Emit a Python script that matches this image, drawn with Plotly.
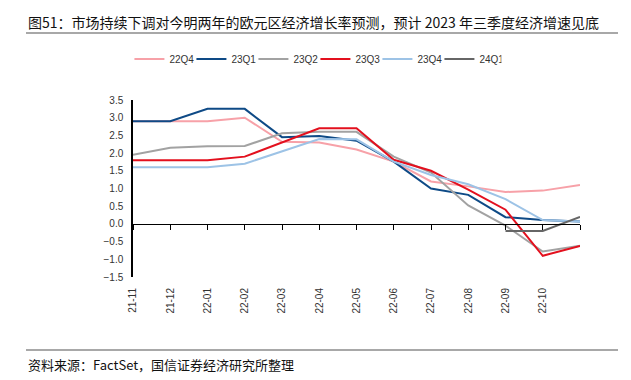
import plotly.graph_objects as go

categories = ["21-11", "21-12", "22-01", "22-02", "22-03", "22-04", "22-05",
              "22-06", "22-07", "22-08", "22-09", "22-10", "22-11"]
labeled_ticks = categories[:12]

s_22q4 = [2.9, 2.9, 2.9, 3.0, 2.32, 2.3, 2.1, 1.76, 1.2, 1.06, 0.9, 0.94, 1.1]
s_23q1 = [2.9, 2.9, 3.25, 3.25, 2.45, 2.48, 2.35, 1.76, 1.0, 0.82, 0.19, 0.11, 0.07]
s_23q2 = [1.95, 2.15, 2.19, 2.2, 2.56, 2.6, 2.6, 1.9, 1.45, 0.52, -0.05, -0.78, -0.62]
s_23q3 = [1.8, 1.8, 1.8, 1.9, 2.3, 2.7, 2.7, 1.81, 1.5, 0.97, 0.4, -0.9, -0.62]
s_23q4 = [1.6, 1.6, 1.6, 1.7, 2.05, 2.4, 2.39, 1.76, 1.38, 1.12, 0.7, 0.11, 0.07]
s_24q1 = [None] * 10 + [-0.2, -0.2, 0.2]

series = [
    ("22Q4", s_22q4, "#F7A1A8"),
    ("23Q1", s_23q1, "#0E4A86"),
    ("23Q2", s_23q2, "#A2A2A2"),
    ("23Q3", s_23q3, "#E3101E"),
    ("23Q4", s_23q4, "#9DC3E6"),
    ("24Q1", s_24q1, "#666666"),
]

x_idx = list(range(len(categories)))

fig = go.Figure()
for name, vals, color in series:
    fig.add_trace(go.Scatter(
        x=x_idx, y=vals, name=name, mode="lines",
        line=dict(color=color, width=2),
        hoverinfo="skip",
    ))

# axis line at y=0 with tick marks (drawn by an overlaying axis)
fig.add_trace(go.Scatter(x=x_idx, y=[None] * len(x_idx), xaxis="x2",
                         showlegend=False, hoverinfo="skip"))

ymin, ymax = -1.5, 3.5
zero_frac = (0 - ymin) / (ymax - ymin)

tick_font = dict(family="Liberation Sans, Arial, sans-serif", size=10, color="#333333")

# page has an 8px body margin; size the figure so it fits the 631x380 window
fig.update_layout(
    width=623, height=372, autosize=False,
    margin=dict(l=125, r=51, t=92, b=103, autoexpand=False),
    paper_bgcolor="white", plot_bgcolor="white",
    showlegend=True,
    legend=dict(orientation="h", x=-0.008, xanchor="left", y=1.232, yanchor="middle",
                font=dict(family="Liberation Sans, Arial, sans-serif", size=10, color="#333333"),
                entrywidth=17, entrywidthmode="pixels",
                bgcolor="rgba(0,0,0,0)", borderwidth=0),
    xaxis=dict(range=[0, 12], tickmode="array", tickvals=list(range(12)),
               ticktext=labeled_ticks, tickangle=-90, showline=False,
               showgrid=False, zeroline=False, ticks="outside", ticklen=6,
               tickcolor="rgba(0,0,0,0)", tickfont=tick_font, automargin=False),
    xaxis2=dict(range=[0, 12], overlaying="x", anchor="free", position=zero_frac,
                side="bottom", tickmode="array", tickvals=x_idx,
                showticklabels=False, showline=True, linecolor="#000000", linewidth=1,
                ticks="outside", ticklen=5, tickcolor="#000000", tickwidth=1,
                showgrid=False, zeroline=False, automargin=False),
    yaxis=dict(range=[ymin, ymax], dtick=0.5, tick0=0, tickformat=".1f",
               showline=True, linecolor="#000000", linewidth=1.5,
               showgrid=False, zeroline=False, ticks="", tickfont=tick_font,
               ticklabelstandoff=6, automargin=False),
)

left_px = 26
right_px = 618
plot_w = 447
plot_h = 177
def px_to_paper_x(px):
    return (px - 133) / plot_w
def py_to_paper_y(py):
    return (277 - py) / plot_h

fig.add_annotation(
    text="图51：市场持续下调对今明两年的欧元区经济增长率预测，预计 2023 年三季度经济增速见底",
    xref="paper", yref="paper", x=px_to_paper_x(left_px), y=py_to_paper_y(22),
    xanchor="left", yanchor="middle", showarrow=False,
    font=dict(family="Noto Sans CJK SC, sans-serif", size=14, color="#111111"))
fig.add_annotation(
    text="资料来源：FactSet，国信证券经济研究所整理",
    xref="paper", yref="paper", x=px_to_paper_x(left_px), y=py_to_paper_y(364),
    xanchor="left", yanchor="middle", showarrow=False,
    font=dict(family="Noto Sans CJK SC, sans-serif", size=13, color="#111111"))

for py in (33, 350):
    fig.add_shape(type="line", xref="paper", yref="paper",
                  x0=px_to_paper_x(left_px), x1=px_to_paper_x(right_px),
                  y0=py_to_paper_y(py), y1=py_to_paper_y(py),
                  line=dict(color="#A8A8A8", width=2))

fig.write_html("out.html")
